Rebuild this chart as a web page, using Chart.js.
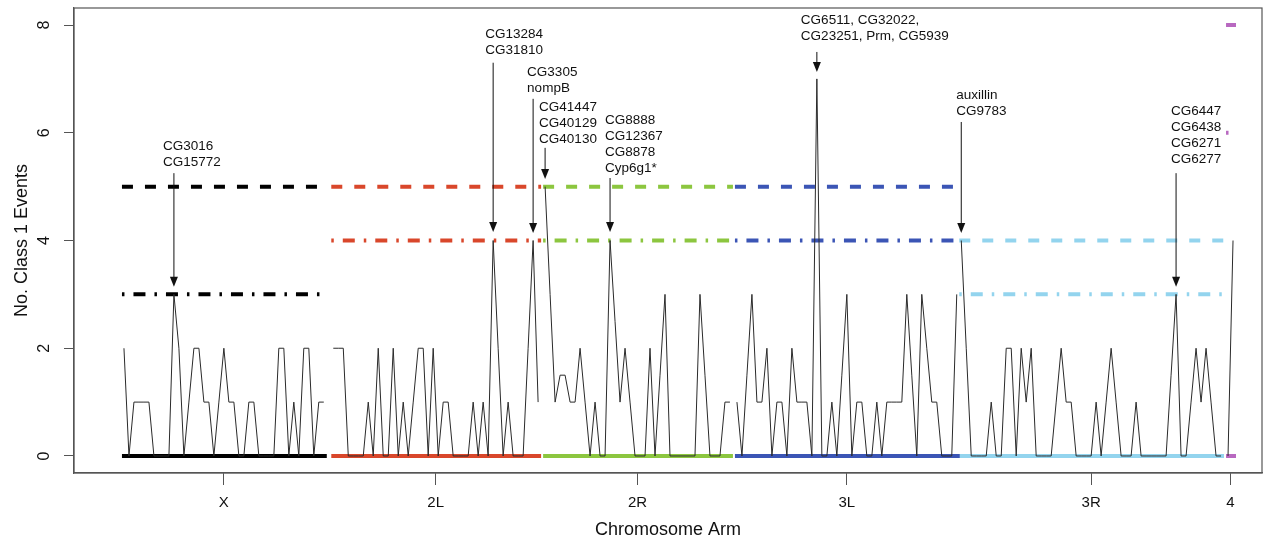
<!DOCTYPE html>
<html>
<head>
<meta charset="utf-8">
<script src="https://cdn.jsdelivr.net/npm/chart.js@4.4.0/dist/chart.umd.min.js"></script>
<style>
  body { margin: 0; background: #fff; }
  #wrap { width: 1275px; height: 543px; }
</style>
</head>
<body>
<div id="wrap"><canvas id="chart" width="1275" height="543"></canvas></div>
<script>
// chromosome arms and their threshold levels
const armNames = ['X', '2L', '2R', '3L', '3R', '4'];
const armColors = ['#000000', '#d9472b', '#8cc63f', '#3b55b5', '#93d4ee', '#b868c0'];
const upperThreshold = [5, 5, 5, 5, 4, 8];
const lowerThreshold = [3, 4, 4, 4, 3, 6];

// number of class 1 events per window, one array per arm
const eventsX  = [2,0,1,1,1,1,0,0,0,0,3,2,0,1,2,2,1,1,0,1,2,1,1,0,0,1,1,0,0,0,0,2,2,0,1,0,2,2,0,1,1];
const events2L = [2,2,2,0,0,0,0,1,0,2,0,0,2,0,1,0,1,2,2,0,2,0,1,1,0,0,0,0,1,0,1,0,4,2,0,1,0,0,0,2,4,1];
const events2R = [5,3,1,1.5,1.5,1,1,2,1,0,1,0,0,4,2.5,1,2,1,0,0,0,2,0,1.5,3,0,0,0,0,0,0,3,1.5,0,0,0,1,1];
const events3L = [1,0,1.5,3,1,1,2,0,1,1,0,2,1,1,1,0,7,0,0,1,0,1.5,3,0,1,1,0,0,1,0,1,1,1,1,3,1.5,0,3,2,1,1,0,0,0,3];
const events3R = [4,2,0,0,0,0,1,0,0,2,2,0,2,1,2,0,0,0,0,1,2,1,1,0,0,0,0,1,0,1,2,1,0,0,0,1,0,0,0,0,0,0,1.5,3,0,0,1,2,1,2,1,0,0];
const events4  = [0,4];
const armEvents = [eventsX, events2L, events2R, events3L, events3R, events4];

const yTicks = [0, 2, 4, 6, 8];

// gene labels: arm, window index, text, and where the text / arrow start sit (in y units)
const geneLabels = [
  { arm: 0, idx: 10, lines: ['CG3016', 'CG15772'], textY: 5.75, from: 5.25, tip: 3.14, dx: -11 },
  { arm: 1, idx: 32, lines: ['CG13284', 'CG31810'], textY: 7.83, from: 7.30, tip: 4.16, dx: -8 },
  { arm: 1, idx: 40, lines: ['CG3305', 'nompB'], textY: 7.13, from: 6.63, tip: 4.14, dx: -6 },
  { arm: 2, idx: 0, lines: ['CG41447', 'CG40129', 'CG40130'], textY: 6.48, from: 5.72, tip: 5.14, dx: -6 },
  { arm: 2, idx: 13, lines: ['CG8888', 'CG12367', 'CG8878', 'Cyp6g1*'], textY: 6.24, from: 5.16, tip: 4.16, dx: -5 },
  { arm: 3, idx: 16, lines: ['CG6511, CG32022,', 'CG23251, Prm, CG5939'], textY: 8.09, from: 7.50, tip: 7.13, dx: -16 },
  { arm: 4, idx: 0, lines: ['auxillin', 'CG9783'], textY: 6.70, from: 6.20, tip: 4.14, dx: -5 },
  { arm: 4, idx: 43, lines: ['CG6447', 'CG6438', 'CG6271', 'CG6277'], textY: 6.39, from: 5.25, tip: 3.14, dx: -5 }
];

const FONT = '"Liberation Sans", Arial, Helvetica, sans-serif';
// space left between one arm and the next (x units)
const GAPS = [1.9, 1.4, 1.4, 0.9, 1.4];

// start position of each arm on the x axis
const armStart = [];
let pos = 0;
armEvents.forEach((a, i) => { armStart.push(pos); pos += a.length - 1 + (GAPS[i] || 0); });
const armCenters = armEvents.map((a, i) => armStart[i] + (a.length - 1) / 2);

const datasets = [];
armEvents.forEach((vals, i) => {
  const x0 = armStart[i] - 0.4, x1 = armStart[i] + vals.length - 1 + 0.6;
  datasets.push({
    data: vals.map((v, j) => ({ x: armStart[i] + j, y: v })),
    borderColor: '#2a2a2a', borderWidth: 1, order: 0
  });
  datasets.push({
    data: [{ x: x0, y: 0 }, { x: x1, y: 0 }],
    borderColor: armColors[i], borderWidth: 4, order: 1
  });
  datasets.push({
    data: [{ x: x0, y: upperThreshold[i] }, { x: x1, y: upperThreshold[i] }],
    borderColor: armColors[i], borderWidth: 4, borderDash: [11, 12], order: 2
  });
  datasets.push({
    data: [{ x: x0, y: lowerThreshold[i] }, { x: x1, y: lowerThreshold[i] }],
    borderColor: armColors[i], borderWidth: 4, borderDash: [2.5, 9, 12, 9], order: 2
  });
});

const extras = {
  id: 'extras',
  afterDraw(chart) {
    const { ctx, chartArea: a, scales: { x, y } } = chart;
    ctx.save();
    // box
    ctx.strokeStyle = '#555';
    ctx.lineWidth = 1.2;
    ctx.strokeRect(a.left, a.top, a.right - a.left, a.bottom - a.top);
    // rotated y tick labels
    ctx.fillStyle = '#111';
    ctx.font = '16px ' + FONT;
    ctx.textAlign = 'center';
    ctx.textBaseline = 'middle';
    y.ticks.forEach(t => {
      ctx.save();
      ctx.translate(45, y.getPixelForValue(t.value));
      ctx.rotate(-Math.PI / 2);
      ctx.fillText(String(t.value), 0, 0);
      ctx.restore();
    });
    // gene labels with arrows
    ctx.font = '13.5px ' + FONT;
    ctx.textAlign = 'left';
    ctx.strokeStyle = '#111';
    ctx.lineWidth = 1;
    geneLabels.forEach(g => {
      const px = x.getPixelForValue(armStart[g.arm] + g.idx);
      const ty = y.getPixelForValue(g.textY);
      g.lines.forEach((s, k) => ctx.fillText(s, px + g.dx, ty + k * 16));
      const y0 = y.getPixelForValue(g.from);
      const y1 = y.getPixelForValue(g.tip);
      ctx.beginPath();
      ctx.moveTo(px, y0);
      ctx.lineTo(px, y1 - 9);
      ctx.stroke();
      ctx.beginPath();
      ctx.moveTo(px - 4, y1 - 10);
      ctx.lineTo(px + 4, y1 - 10);
      ctx.lineTo(px, y1);
      ctx.closePath();
      ctx.fill();
    });
    ctx.restore();
  }
};

new Chart(document.getElementById('chart'), {
  type: 'line',
  data: { datasets },
  options: {
    responsive: false,
    animation: false,
    events: [],
    layout: { padding: { left: 0, right: 13, top: 8, bottom: 0 } },
    elements: { point: { radius: 0 }, line: { tension: 0, borderCapStyle: 'butt' } },
    plugins: { legend: { display: false }, tooltip: { enabled: false } },
    scales: {
      x: {
        type: 'linear',
        min: -10,
        max: 227.8,
        afterFit: s => { s.height = 70; },
        afterBuildTicks: s => { s.ticks = armCenters.map(v => ({ value: v })); },
        grid: { drawOnChartArea: false, drawTicks: true, tickLength: 12, color: '#555' },
        border: { display: true, color: '#555', width: 1.2 },
        ticks: {
          autoSkip: false, maxRotation: 0, padding: 9, color: '#111',
          font: { family: FONT, size: 15 },
          callback: (v, i) => armNames[i]
        },
        title: {
          display: true, text: 'Chromosome Arm', color: '#111',
          font: { family: FONT, size: 18 }, padding: { top: 0, bottom: 2 }
        }
      },
      y: {
        min: -0.316,
        max: 8.316,
        afterFit: s => { s.width = 74; },
        afterBuildTicks: s => { s.ticks = yTicks.map(v => ({ value: v })); },
        grid: { drawOnChartArea: false, drawTicks: true, tickLength: 10, color: '#555' },
        border: { display: true, color: '#555', width: 1.2 },
        ticks: { display: false },
        title: {
          display: true, text: 'No. Class 1 Events', color: '#111',
          font: { family: FONT, size: 18 }, padding: { top: 11, bottom: 0 }
        }
      }
    }
  },
  plugins: [extras]
});
</script>
</body>
</html>
